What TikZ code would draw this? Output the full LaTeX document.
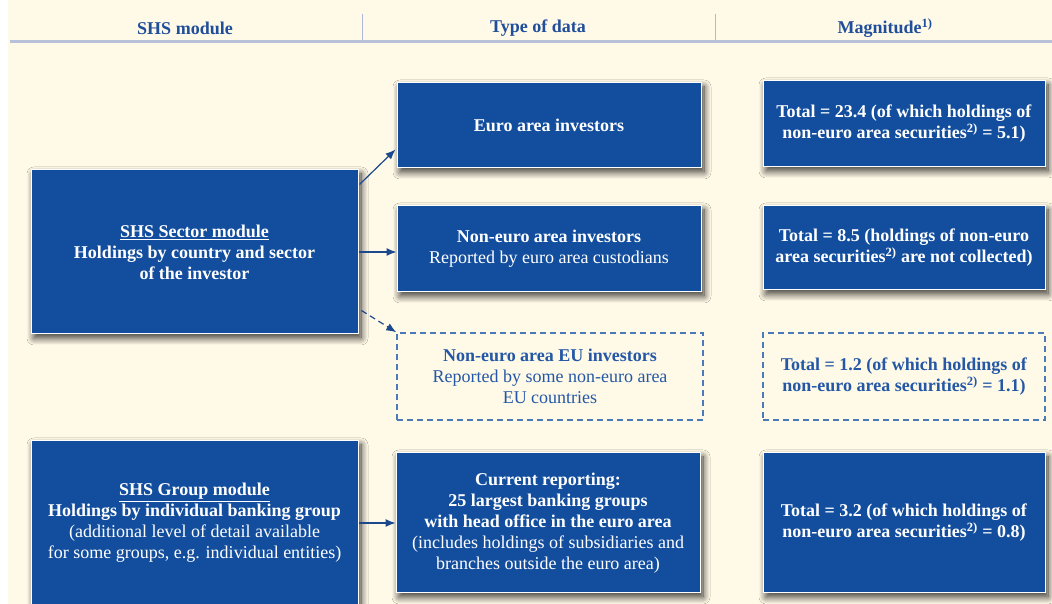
\documentclass[tikz,border=0pt]{standalone}
\usepackage{fontspec}
\setmainfont{Liberation Serif}
\usetikzlibrary{shadows.blur,arrows.meta,calc}
\definecolor{cream}{RGB}{255,249,231}
\definecolor{boxblue}{RGB}{19,78,158}
\definecolor{hdrblue}{RGB}{31,78,154}
\definecolor{dashblue}{RGB}{76,122,184}
\definecolor{txtblue}{RGB}{36,88,166}
\definecolor{rulecol}{RGB}{184,192,218}
\definecolor{sepcol}{RGB}{170,184,217}
\definecolor{arrowblue}{RGB}{28,72,140}
\tikzset{
  solidbox/.style={draw=white, line width=1pt, fill=boxblue, text=white, align=center,
    inner sep=0pt, font=\fontsize{18}{21}\selectfont,
    blur shadow={shadow xshift=3pt, shadow yshift=-4pt, shadow blur radius=7pt,
      shadow blur steps=12, shadow opacity=80}},
  dashbox/.style={draw=dashblue, dash pattern=on 6pt off 4pt, line width=1.5pt,
    text=txtblue, align=center, inner sep=0pt, font=\fontsize{18}{21}\selectfont},
  hdr/.style={text=hdrblue, font=\fontsize{18}{20}\selectfont\bfseries, inner sep=0pt},
  conn/.style={draw=arrowblue, line width=1.2pt, -{Latex[length=10pt,width=8pt]}},
}
\begin{document}
\begin{tikzpicture}[x=1pt,y=1pt]
\useasboundingbox (0,0) rectangle (1052,604);
\fill[white] (0,0) rectangle (1052,604);
\fill[cream] (8,0) rectangle (1052,604);

% header
\node[hdr] (h1) at (185,576) {SHS module};
\node[hdr] (h2) at (538,576) {Type of data};
\node[hdr] (h3) at (885,576) {Magnitude\textsuperscript{1)}};
\draw[rulecol, line width=3pt] (10,562) -- (1052,562);
\draw[sepcol, line width=0.8pt] (362,564) -- (362,590);
\draw[sepcol, line width=0.8pt] (715,564) -- (715,590);

% left column
\node[solidbox, minimum width=327pt, minimum height=164pt] (S) at (194.5,352)
  {\underline{\textbf{SHS Sector module}}\\ \textbf{Holdings by country and sector}\\ \textbf{of the investor}};
\node[solidbox, minimum width=327pt, minimum height=164pt] (G) at (194.5,81)
  {\underline{\textbf{SHS Group module}}\\ \textbf{Holdings by individual banking group}\\ (additional level of detail available\\ for some groups, e.g. individual entities)};

% middle column
\node[solidbox, minimum width=304pt, minimum height=85pt] (E1) at (549,478.5)
  {\textbf{Euro area investors}};
\node[solidbox, minimum width=304pt, minimum height=86pt] (E2) at (549,355)
  {\textbf{Non-euro area investors}\\ Reported by euro area custodians};
\node[dashbox, minimum width=306pt, minimum height=87pt] (E3) at (550,227.5)
  {\textbf{Non-euro area EU investors}\\ Reported by some non-euro area\\ EU countries};
\node[solidbox, minimum width=304pt, minimum height=140pt] (C) at (548,81)
  {\textbf{Current reporting:}\\ \textbf{25 largest banking groups}\\ \textbf{with head office in the euro area}\\ (includes holdings of subsidiaries and\\ branches outside the euro area)};

% right column
\node[solidbox, minimum width=282pt, minimum height=86pt] (M1) at (904,480)
  {\textbf{Total = 23.4 (of which holdings of}\\ \textbf{non-euro area securities\textsuperscript{2)} = 5.1)}};
\node[solidbox, minimum width=282pt, minimum height=84pt] (M2) at (904,356)
  {\textbf{Total = 8.5 (holdings of non-euro}\\ \textbf{area securities\textsuperscript{2)} are not collected)}};
\node[dashbox, minimum width=282pt, minimum height=87pt] (M3) at (904,227.5)
  {\textbf{Total = 1.2 (of which holdings of}\\ \textbf{non-euro area securities\textsuperscript{2)} = 1.1)}};
\node[solidbox, minimum width=282pt, minimum height=140pt] (M4) at (904,81)
  {\textbf{Total = 3.2 (of which holdings of}\\ \textbf{non-euro area securities\textsuperscript{2)} = 0.8)}};

% connectors
\draw[conn] ($(S.north east)+(1,-15)$) -- ($(E1.south west)+(-1,19)$);
\draw[conn] (S.east) -- (S.east -| E2.west);
\draw[conn, dash pattern=on 6pt off 4pt] ($(S.south east)+(3,24)$) -- (E3.north west);
\draw[conn] (G.east) -- (G.east -| C.west);
\end{tikzpicture}
\end{document}
